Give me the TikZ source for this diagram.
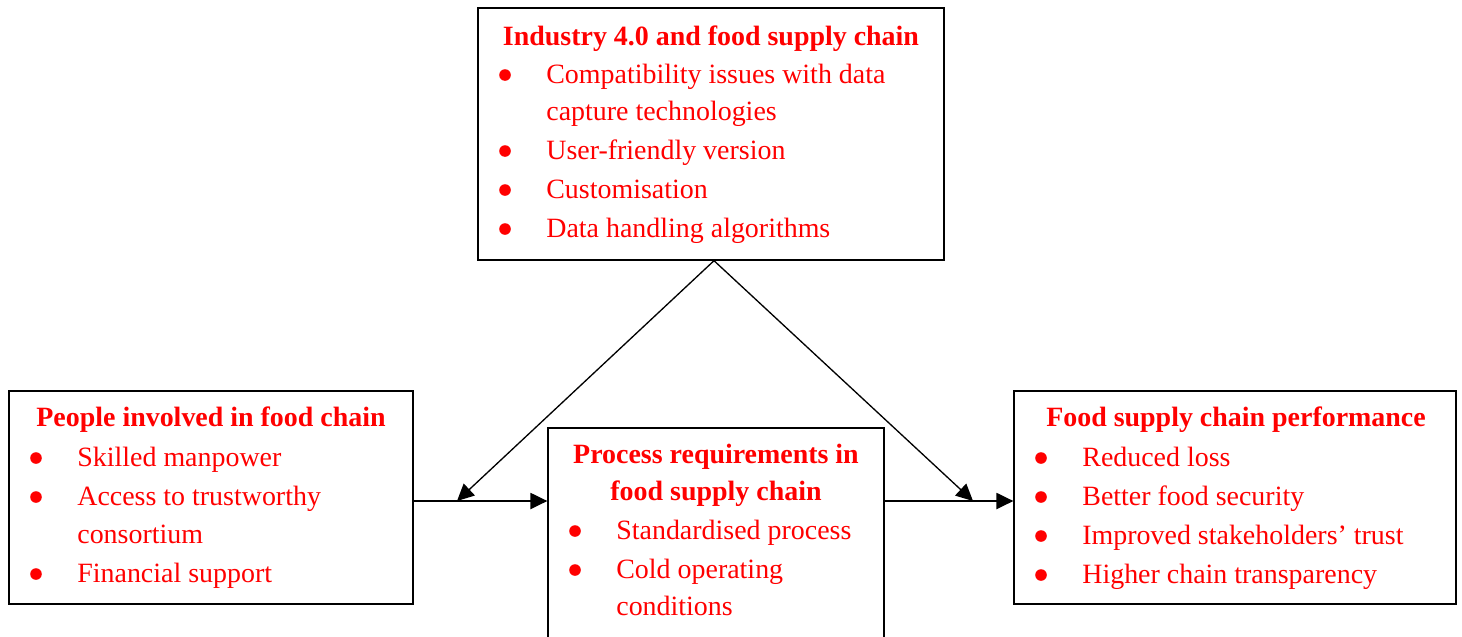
\documentclass[tikz,border=0pt]{standalone}
\usepackage{fontspec}
\setmainfont{Liberation Serif}
\usetikzlibrary{arrows.meta}
\definecolor{txtred}{RGB}{255,0,0}

\begin{document}
\begin{tikzpicture}[x=0.02cm,y=-0.02cm,
				box/.style={draw,line width=0.8pt,inner sep=0pt},
				head/.style={font=\fontsize{15.9}{22}\selectfont\bfseries,text=txtred,anchor=base,inner sep=0pt},
				item/.style={font=\fontsize{15.9}{22}\selectfont,text=txtred,anchor=base west,inner sep=0pt},
				dot/.style={circle,fill=txtred,inner sep=0pt,minimum size=6.6pt,yshift=0.16cm},
				arr/.style={line width=0.75pt,-{Triangle[length=9.6pt,width=9.2pt]}}]
				\useasboundingbox (0,0) rectangle (1462,636);
				
				\node[box,minimum width=9.32cm,minimum height=5.04cm] (industry) at (711,134) {};
				\node[box,minimum width=8.08cm,minimum height=4.26cm] (people) at (211,497.5) {};
				\node[box,minimum width=6.72cm,minimum height=4.34cm] (process) at (716,536.5) {};
				\node[box,minimum width=8.84cm,minimum height=4.26cm] (perform) at (1235,497.5) {};
				
				\node[head] (h1) at (711,45) {Industry 4.0 and food supply chain};
				\node[dot] (d1a) at (505,83) {};
				\node[item] (t1a) at (546,83) {Compatibility issues with data};
				\node[item] (t1b) at (546,120) {capture technologies};
				\node[dot] (d1c) at (505,159) {};
				\node[item] (t1c) at (546,159) {User-friendly version};
				\node[dot] (d1d) at (505,198) {};
				\node[item] (t1d) at (546,198) {Customisation};
				\node[dot] (d1e) at (505,237) {};
				\node[item] (t1e) at (546,237) {Data handling algorithms};
				
				\node[head] (h2) at (211,426) {People involved in food chain};
				\node[dot] (d2a) at (36,466) {};
				\node[item] (t2a) at (77,466) {Skilled manpower};
				\node[dot] (d2b) at (36,505) {};
				\node[item] (t2b) at (77,505) {Access to trustworthy};
				\node[item] (t2c) at (77,543) {consortium};
				\node[dot] (d2d) at (36,582) {};
				\node[item] (t2d) at (77,582) {Financial support};
				
				\node[head] (h3a) at (716,463) {Process requirements in};
				\node[head] (h3b) at (716,500) {food supply chain};
				\node[dot] (d3a) at (575,539) {};
				\node[item] (t3a) at (616,539) {Standardised process};
				\node[dot] (d3b) at (575,578) {};
				\node[item] (t3b) at (616,578) {Cold operating};
				\node[item] (t3c) at (616,615) {conditions};
				
				\node[head] (h4) at (1236,426) {Food supply chain performance};
				\node[dot] (d4a) at (1041,466) {};
				\node[item] (t4a) at (1082,466) {Reduced loss};
				\node[dot] (d4b) at (1041,505) {};
				\node[item] (t4b) at (1082,505) {Better food security};
				\node[dot] (d4c) at (1041,544) {};
				\node[item] (t4c) at (1082,544) {Improved stakeholders’ trust};
				\node[dot] (d4d) at (1041,583) {};
				\node[item] (t4d) at (1082,583) {Higher chain transparency};
				
				\coordinate (apex) at ([xshift=0.06cm]industry.south);
				\coordinate (jl) at (457,501);
				\coordinate (jr) at (973,501);
				\draw[arr] (people.east |- jl) -- (process.west |- jl);
				\draw[arr] (process.east |- jr) -- (perform.west |- jr);
				\draw[arr] (apex) -- (jl);
				\draw[arr] (apex) -- (jr);
				\end{tikzpicture}
\end{document}
